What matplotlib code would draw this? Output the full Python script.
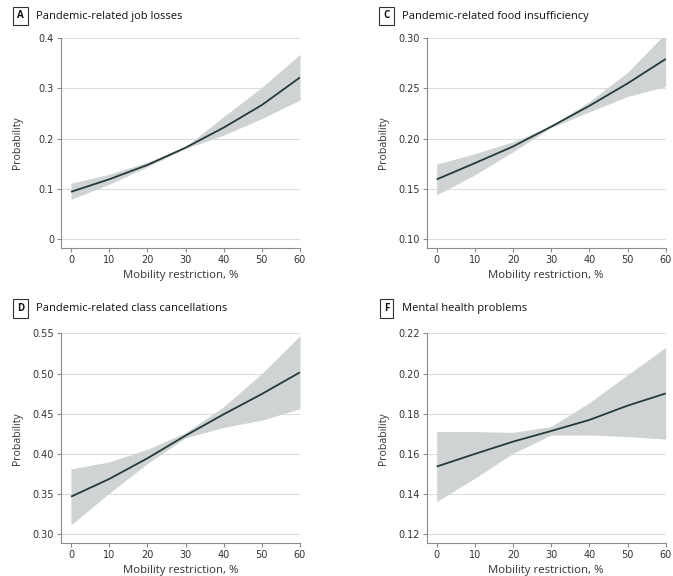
import matplotlib
matplotlib.use("Agg")
import matplotlib.pyplot as plt

plt.rcParams['font.family'] = ['Open Sans', 'DejaVu Sans']

x = [0, 10, 20, 30, 40, 50, 60]

a_mean = [0.094, 0.119, 0.1475, 0.182, 0.222, 0.267, 0.322]
a_upper = [0.111, 0.129, 0.153, 0.184, 0.244, 0.302, 0.368]
a_lower = [0.079, 0.109, 0.144, 0.180, 0.207, 0.240, 0.277]

c_mean = [0.1594, 0.1756, 0.1922, 0.212, 0.2327, 0.255, 0.2794]
c_upper = [0.1746, 0.185, 0.1969, 0.2128, 0.237, 0.266, 0.305]
c_lower = [0.144, 0.164, 0.187, 0.211, 0.2267, 0.242, 0.252]

d_mean = [0.3468, 0.3688, 0.3945, 0.4227, 0.4493, 0.4745, 0.5015]
d_upper = [0.3813, 0.390, 0.4057, 0.4265, 0.4588, 0.500, 0.547]
d_lower = [0.3116, 0.351, 0.388, 0.420, 0.433, 0.442, 0.4563]

f_mean = [0.1537, 0.160, 0.1661, 0.1714, 0.1769, 0.184, 0.1901]
f_upper = [0.1711, 0.1711, 0.1707, 0.1736, 0.1855, 0.1993, 0.213]
f_lower = [0.1363, 0.1479, 0.1603, 0.1694, 0.1694, 0.1686, 0.1674]

xticks = [0, 10, 20, 30, 40, 50, 60]
a_yticks = [0, 0.1, 0.2, 0.3, 0.4]
a_ylabels = ["0", "0.1", "0.2", "0.3", "0.4"]
c_yticks = [0.10, 0.15, 0.20, 0.25, 0.30]
d_yticks = [0.30, 0.35, 0.40, 0.45, 0.50, 0.55]
f_yticks = [0.12, 0.14, 0.16, 0.18, 0.20, 0.22]

panels = [
    ("A", "Pandemic-related job losses", a_mean, a_upper, a_lower, a_yticks, a_ylabels),
    ("C", "Pandemic-related food insufficiency", c_mean, c_upper, c_lower, c_yticks,
     [f"{v:.2f}" for v in c_yticks]),
    ("D", "Pandemic-related class cancellations", d_mean, d_upper, d_lower, d_yticks,
     [f"{v:.2f}" for v in d_yticks]),
    ("F", "Mental health problems", f_mean, f_upper, f_lower, f_yticks,
     [f"{v:.2f}" for v in f_yticks]),
]

W, H = 673, 576
fig = plt.figure(figsize=(W / 100, H / 100), dpi=100)

# pixel geometry: (spine_left, x60_px, top_tick_px, bottom_tick_px)
geo = [
    (61, 300, 38.3, 239.0),
    (426.7, 665.7, 38.3, 239.0),
    (61, 300, 333.3, 534.3),
    (426.7, 665.7, 333.3, 534.3),
]
box_pos = [(11, 9.5), (377, 9.5), (11, 302), (377, 302)]

line_col = "#26393a"
band_col = "#cfd3d3"
grid_col = "#dcdcdc"
spine_col = "#8c8c8c"
text_col = "#333333"

for (lab, title, m, up, lo, yt, yl), (sl, xr, tt, tb), (bx, by) in zip(panels, geo, box_pos):
    px_per_unit_x = (xr - (sl + 10)) / 60.0
    xmin = -10 / px_per_unit_x
    bottom_px = tb + 9
    ypx_per_unit = (tb - tt) / (yt[-1] - yt[0])
    ymin = yt[0] - 9 / ypx_per_unit
    ymax = yt[-1]
    ax_w = xr - sl
    ax_h = bottom_px - tt
    ax = fig.add_axes([sl / W, 1 - bottom_px / H, ax_w / W, ax_h / H])
    ax.set_xlim(xmin, 60)
    ax.set_ylim(ymin, ymax)
    ax.fill_between(x, lo, up, color=band_col, linewidth=0, zorder=2)
    ax.plot(x, m, color=line_col, linewidth=1.3, zorder=3, solid_capstyle='butt')
    ax.set_yticks(yt)
    ax.set_yticklabels(yl, fontfamily='DejaVu Sans')
    ax.set_xticks(xticks)
    ax.set_xticklabels([str(v) for v in xticks], fontfamily='DejaVu Sans')
    for v in yt:
        ax.axhline(v, color=grid_col, linewidth=0.8, zorder=1)
    for s in ["top", "right"]:
        ax.spines[s].set_visible(False)
    for s in ["left", "bottom"]:
        ax.spines[s].set_color(spine_col)
        ax.spines[s].set_linewidth(0.8)
    ax.tick_params(axis='both', direction='out', length=3, width=0.8, color=spine_col,
                   labelsize=7, labelcolor=text_col, pad=2)
    ax.set_xlabel("Mobility restriction, %", fontsize=8.2, color=text_col, va='center')
    ax.xaxis.set_label_coords(0.5, -27.5 / ax_h)
    ax.set_ylabel("Probability", fontsize=7.6, color=text_col, va='center')
    ax.yaxis.set_label_coords(-43 / ax_w, 0.5)
    # panel label box and title
    fig.text((bx + 9.5) / W, 1 - (by + 6.5) / H, lab, fontsize=7, fontweight='bold',
             color='#111111', ha='center', va='center',
             bbox=dict(boxstyle='square,pad=0.4', facecolor='white', edgecolor='#333333',
                       linewidth=0.8))
    fig.text((bx + 25) / W, 1 - (by + 6.5) / H, title, fontsize=8, color='#111111',
             ha='left', va='center')

fig.savefig("out.png", dpi=100)
